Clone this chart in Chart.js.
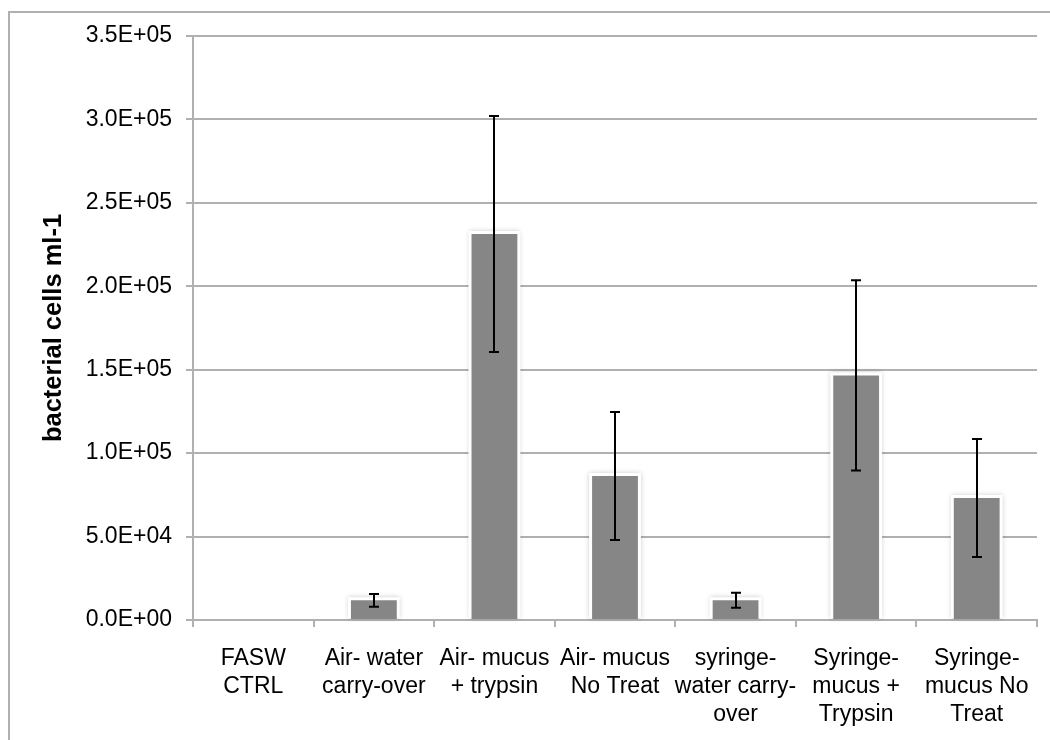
<!DOCTYPE html>
<html>
<head>
<meta charset="utf-8">
<script src="https://cdn.jsdelivr.net/npm/chart.js@4"></script>
<style>
  body { margin: 0; background: #fff; }
  canvas { display: block; }
</style>
</head>
<body>
<canvas id="myChart" width="1050" height="740"></canvas>
<script>
const categories = [
  ["FASW", "CTRL"],
  ["Air- water", "carry-over"],
  ["Air- mucus", "+ trypsin"],
  ["Air- mucus", "No Treat"],
  ["syringe-", "water carry-", "over"],
  ["Syringe-", "mucus +", "Trypsin"],
  ["Syringe-", "mucus No", "Treat"],
];
const means = [0, 11800, 231300, 86300, 11800, 146600, 73100];
const errors = [0, 3800, 70700, 38400, 4500, 57000, 35400];
const yTicks = [0, 50000, 100000, 150000, 200000, 250000, 300000, 350000];

const grey = "#b0b0b0";
const font = "'Liberation Sans', Arial, sans-serif";

const sci = (v) => {
  if (v === 0) return "0.0E+00";
  const exp = Math.floor(Math.log10(Math.abs(v)));
  const man = v / Math.pow(10, exp);
  return man.toFixed(1) + "E" + (exp < 0 ? "-" : "+") + String(Math.abs(exp)).padStart(2, "0");
};

// white page with the grey frame on the left and top
const frame = {
  id: "frame",
  beforeDraw(chart) {
    const c = chart.ctx;
    c.save();
    c.fillStyle = "#fff";
    c.fillRect(0, 0, chart.width, chart.height);
    c.strokeStyle = grey;
    c.lineWidth = 2;
    c.beginPath();
    c.moveTo(9, chart.height);
    c.lineTo(9, 12);
    c.lineTo(chart.width, 12);
    c.stroke();
    c.restore();
  },
};

// white halo with a faint shadow behind each bar
const halo = {
  id: "halo",
  beforeDatasetsDraw(chart) {
    const c = chart.ctx;
    const meta = chart.getDatasetMeta(0);
    c.save();
    meta.data.forEach((bar, i) => {
      if (!means[i]) return;
      const { x, y, base, width } = bar.getProps(["x", "y", "base", "width"], true);
      c.shadowColor = "rgba(0,0,0,0.2)";
      c.shadowBlur = 5;
      c.fillStyle = "#fff";
      c.fillRect(x - width / 2 - 3, y - 3, width + 6, base - y + 2);
    });
    c.restore();
  },
};

const errorBars = {
  id: "errorBars",
  afterDatasetsDraw(chart) {
    const c = chart.ctx;
    const yScale = chart.scales.y;
    const meta = chart.getDatasetMeta(0);
    c.save();
    c.strokeStyle = "#000";
    c.lineWidth = 2;
    meta.data.forEach((bar, i) => {
      if (!errors[i]) return;
      const x = Math.round(bar.x);
      const top = yScale.getPixelForValue(means[i] + errors[i]);
      const bottom = yScale.getPixelForValue(means[i] - errors[i]);
      c.beginPath();
      c.moveTo(x, top);
      c.lineTo(x, bottom);
      c.moveTo(x - 5, top);
      c.lineTo(x + 5, top);
      c.moveTo(x - 5, bottom);
      c.lineTo(x + 5, bottom);
      c.stroke();
    });
    c.restore();
  },
};

new Chart(document.getElementById("myChart"), {
  type: "bar",
  data: {
    labels: categories,
    datasets: [
      {
        data: means,
        backgroundColor: "#868686",
        borderWidth: 0,
        barPercentage: 0.38,
        categoryPercentage: 1,
      },
    ],
  },
  options: {
    responsive: false,
    animation: false,
    layout: { padding: { top: 36, right: 13, left: 0, bottom: 0 } },
    plugins: {
      legend: { display: false },
      tooltip: { enabled: false },
    },
    scales: {
      x: {
        afterFit: (s) => { s.height = 120; },
        grid: {
          drawOnChartArea: false,
          offset: true,
          tickLength: 7,
          color: grey,
          lineWidth: 2,
        },
        border: { color: grey, width: 2 },
        ticks: {
          color: "#000",
          maxRotation: 0,
          autoSkip: false,
          padding: 18,
          font: { family: font, size: 23, lineHeight: 1.22 },
        },
      },
      y: {
        min: 0,
        max: 350000,
        afterFit: (s) => { s.width = 193; },
        afterBuildTicks: (s) => { s.ticks = yTicks.map((v) => ({ value: v })); },
        grid: { color: grey, lineWidth: 2, tickLength: 7 },
        border: { color: grey, width: 2 },
        ticks: {
          color: "#000",
          padding: 14,
          callback: (v) => sci(v),
          font: { family: font, size: 23 },
        },
        title: {
          display: true,
          text: "bacterial cells ml-1",
          color: "#000",
          padding: { top: 39, bottom: 0 },
          font: { family: font, size: 25.5, weight: "bold" },
        },
      },
    },
  },
  plugins: [frame, halo, errorBars],
});
</script>
</body>
</html>
